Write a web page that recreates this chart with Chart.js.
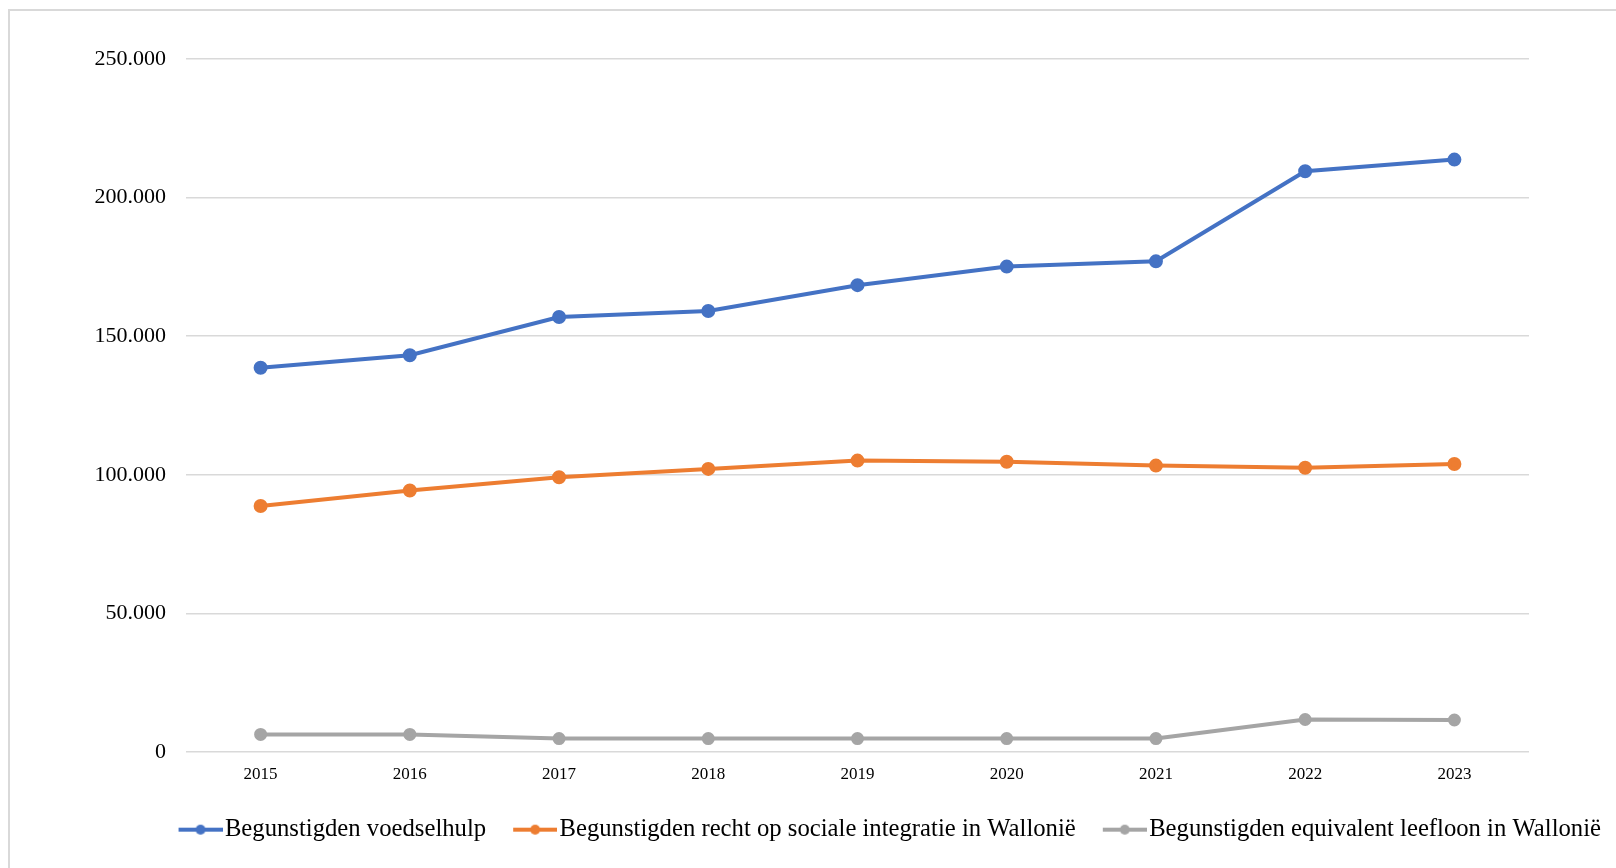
<!DOCTYPE html>
<html>
<head>
<meta charset="utf-8">
<script src="https://cdn.jsdelivr.net/npm/chart.js@4.4.1/dist/chart.umd.min.js"></script>
<style>
  html, body { margin: 0; padding: 0; background: #fff; }
  body { width: 1616px; height: 868px; overflow: hidden; position: relative; }
  #frame { position: absolute; left: 8px; top: 9px; width: 1700px; height: 1000px; border: 2px solid #d9d9d9; }
  #wrap { position: absolute; left: 0; top: 0; width: 1616px; height: 868px; }
</style>
</head>
<body>
<div id="frame"></div>
<div id="wrap"><canvas id="chart"></canvas></div>
<script>
const years = ['2015', '2016', '2017', '2018', '2019', '2020', '2021', '2022', '2023']
const voedselhulp = [138600, 143100, 156900, 159100, 168400, 175100, 177000, 209500, 213700]
const sociaalIntegratie = [88700, 94300, 99100, 102100, 105100, 104700, 103300, 102500, 103900]
const equivalentLeefloon = [6300, 6300, 4800, 4800, 4800, 4800, 4800, 11700, 11500]
const seriesNames = [
  'Begunstigden voedselhulp',
  'Begunstigden recht op sociale integratie in Wallonië',
  'Begunstigden equivalent leefloon in Wallonië'
]
const colors = ['#4472C4', '#ED7D31', '#A5A5A5']

// legend marker: line with a dot, drawn a bit to the right of the box centre
function legendIcon(color){
  const c = document.createElement('canvas')
  c.width = 54
  c.height = 12
  const g = c.getContext('2d')
  g.strokeStyle = color
  g.lineWidth = 4
  g.beginPath()
  g.moveTo(10, 6)
  g.lineTo(54, 6)
  g.stroke()
  g.fillStyle = color
  g.beginPath()
  g.arc(32, 6, 5, 0, Math.PI * 2)
  g.fill()
  return c
}

function fmt(v){
  return String(v).replace(/\B(?=(\d{3})+(?!\d))/g, '.')
}

const ctx = document.getElementById('chart').getContext('2d')
const dataSets = [voedselhulp, sociaalIntegratie, equivalentLeefloon].map((d, i) => ({
  label: seriesNames[i],
  data: d,
  borderColor: colors[i],
  backgroundColor: colors[i],
  borderWidth: 4,
  pointRadius: i === 2 ? 4.5 : 5,
  pointHoverRadius: 5,
  pointStyle: 'circle',
  tension: 0,
  fill: false
}))

const legendShift = {
  id: 'legendShift',
  afterLayout(chart){
    chart.legend.left += 12
    chart.legend.right += 12
    chart.legend.top -= 6
    chart.legend.bottom -= 6
  }
}

new Chart(ctx, {
  type: 'line',
  data: { labels: years, datasets: dataSets },
  plugins: [legendShift],
  options: {
    responsive: true,
    maintainAspectRatio: false,
    animation: false,
    layout: { padding: { top: 59, right: 0, bottom: 10, left: 0 } },
    scales: {
      x: {
        offset: true,
        grid: { display: false, drawTicks: false },
        border: { display: false },
        ticks: { color: '#000', font: { family: 'Liberation Serif', size: 17 }, padding: 12 }
      },
      y: {
        min: 0,
        max: 250000,
        afterFit: scale => { scale.width = 186 },
        grid: { color: '#d9d9d9', lineWidth: 1.5, drawTicks: false },
        border: { display: false },
        ticks: {
          stepSize: 50000,
          color: '#000',
          padding: 20,
          font: { family: 'Liberation Serif', size: 22 },
          callback: v => fmt(v)
        }
      },
      rightSpace: {
        type: 'linear',
        position: 'right',
        afterFit: scale => { scale.width = 87 },
        grid: { display: false, drawTicks: false },
        border: { display: false },
        ticks: { display: false }
      }
    },
    plugins: {
      tooltip: { enabled: false },
      legend: {
        position: 'bottom',
        align: 'end',
        labels: {
          usePointStyle: true,
          pointStyleWidth: 34,
          padding: 27,
          color: '#000',
          font: { family: 'Liberation Serif', size: 24.7 },
          generateLabels: chart => chart.data.datasets.map((ds, i) => ({
            text: ds.label,
            pointStyle: legendIcon(colors[i]),
            fillStyle: colors[i],
            strokeStyle: colors[i],
            lineWidth: 0,
            datasetIndex: i,
            hidden: false
          }))
        }
      }
    }
  }
})
</script>
</body>
</html>
